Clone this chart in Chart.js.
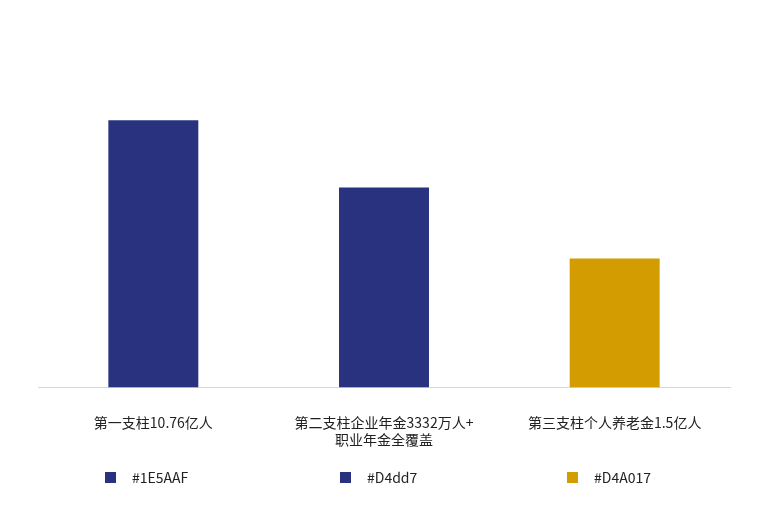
<!DOCTYPE html>
<html><head><meta charset="utf-8">
<script src="https://cdn.jsdelivr.net/npm/chart.js@4"></script>
<style>
body{margin:0;background:#fff;font-family:"Noto Sans CJK SC","Noto Sans",sans-serif;}
#wrap{position:relative;width:768px;height:512px;}
.lg{position:absolute;top:467px;font-size:14px;color:#222;display:flex;align-items:center;}
.lg span.b{display:inline-block;width:11px;height:11px;margin-right:16px;}
</style></head><body>
<div id="wrap"><canvas id="c" width="768" height="512"></canvas>
<div id="legend"></div></div>
<script>
const categories = [["第一支柱10.76亿人"],["第二支柱企业年金3332万人+","职业年金全覆盖"],["第三支柱个人养老金1.5亿人"]];
const values = [100, 74.8, 48.2];
const colors = ["#28327f","#28327f","#d39c00"];
const legendLabels = ["#1E5AAF","#D4dd7","#D4A017"];
const legendX = [105, 340, 567];

new Chart(document.getElementById('c'), {
  type:'bar',
  data:{labels:categories, datasets:[{data:values, backgroundColor:colors, barPercentage:0.39, categoryPercentage:1}]},
  options:{
    responsive:false, animation:false,
    layout:{padding:{left:38,right:38,top:0,bottom:45}},
    plugins:{legend:{display:false},tooltip:{enabled:false}},
    scales:{
      x:{grid:{display:false},border:{color:'#d8d8d8'},ticks:{color:'#222',font:{size:14,family:'"Noto Sans CJK SC"'},padding:19,maxRotation:0}},
      y:{display:false,min:0,max:145}
    }
  }
});
const lg=document.getElementById('legend');
legendLabels.forEach((t,i)=>{
  const d=document.createElement('div');d.className='lg';d.style.left=legendX[i]+'px';
  d.innerHTML='<span class="b" style="background:'+colors[i]+'"></span>'+t;lg.appendChild(d);
});
</script></body></html>
